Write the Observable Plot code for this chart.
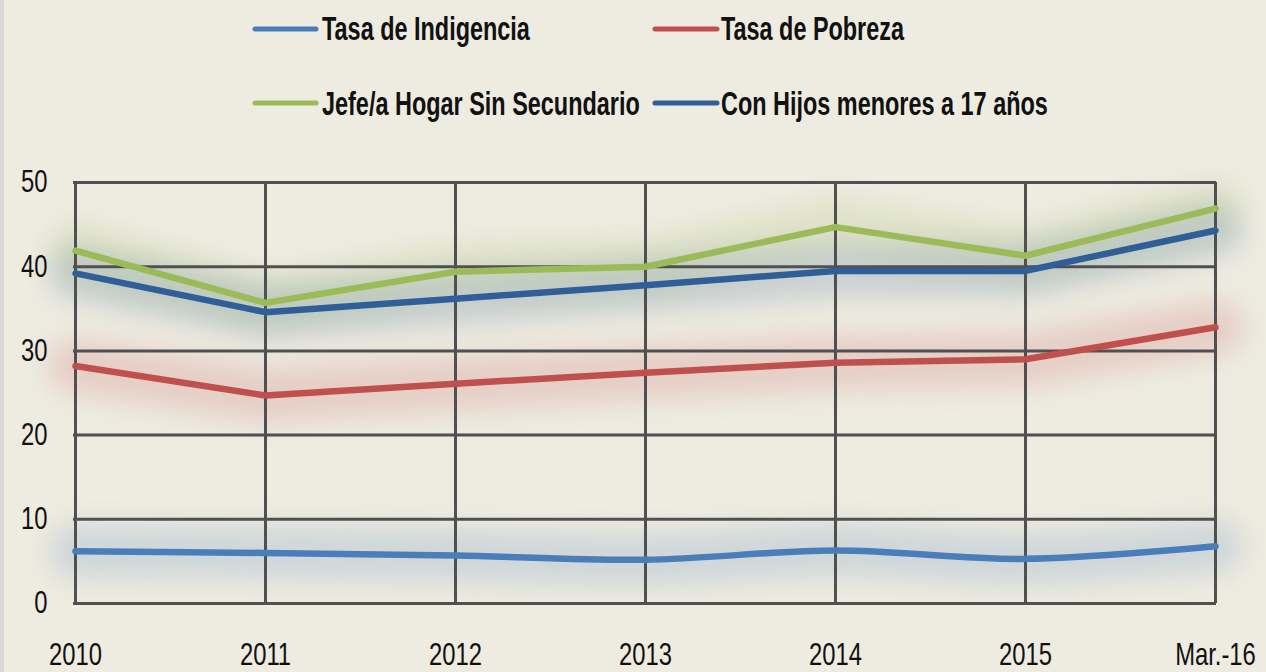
<!DOCTYPE html>
<html><head><meta charset="utf-8">
<script src="https://cdn.jsdelivr.net/npm/d3@7"></script>
<script src="https://cdn.jsdelivr.net/npm/@observablehq/plot@0.6"></script>
<style>
html,body{margin:0;padding:0;background:#eeebe0;}
body{width:1266px;height:672px;overflow:hidden;position:relative;font-family:"Liberation Sans Narrow","Liberation Sans",Arial,sans-serif;}
#edge{position:absolute;left:0;top:0;width:4px;height:672px;background:#d8d8d6;}
#legend svg,#chart svg{display:block;}
</style></head><body>
<div id="edge"></div>
<div id="legend"></div>
<div id="chart"></div>
<script>
// ---- data ----
const periods = ["2010","2011","2012","2013","2014","2015","Mar.-16"];
const seriesNames = ["Tasa de Indigencia","Tasa de Pobreza","Jefe/a Hogar Sin Secundario","Con Hijos menores a 17 años"];
const indigencia    = [6.2, 6.0, 5.7, 5.2, 6.3, 5.3, 6.8];
const pobreza       = [28.2, 24.7, 26.1, 27.4, 28.6, 29.0, 32.8];
const sinSecundario = [41.9, 35.7, 39.4, 40.0, 44.7, 41.3, 46.9];
const conHijos      = [39.2, 34.6, 36.2, 37.8, 39.5, 39.5, 44.3];
const yTicks = [0, 10, 20, 30, 40, 50];

// ---- styling ----
const FONT = '"Liberation Sans Narrow","Liberation Sans",Arial,sans-serif';
const colors = ["#4a7ebb", "#c0504d", "#9bbb59", "#2f5e98"];
const seriesValues = [indigencia, pobreza, sinSecundario, conHijos];
const rows = seriesNames.flatMap((s, j) => periods.map((p, i) => ({period: p, serie: s, value: seriesValues[j][i]})));

// ---- legend ----
const legendLayout = [
  {x0: 255, x1: 316, tx: 322, ly: 29, by: 40, w: 208},
  {x0: 655, x1: 717, tx: 721, ly: 29, by: 40, w: 183},
  {x0: 255, x1: 316, tx: 322, ly: 103, by: 115, w: 318},
  {x0: 655, x1: 717, tx: 721, ly: 103, by: 115, w: 327}
];
const lsvg = d3.select("#legend").append("svg").attr("width", 1266).attr("height", 160);
seriesNames.forEach((name, j) => {
  const L = legendLayout[j];
  lsvg.append("line").attr("x1", L.x0).attr("x2", L.x1).attr("y1", L.ly).attr("y2", L.ly)
    .attr("stroke", colors[j]).attr("stroke-width", 5).attr("stroke-linecap", "round");
  const t = lsvg.append("text").attr("x", 0).attr("y", 0).text(name)
    .attr("font-family", FONT)
    .attr("font-weight", "bold").attr("font-size", 33).attr("fill", "#111");
  const len = t.node().getComputedTextLength();
  t.attr("transform", `translate(${L.tx},${L.by}) scale(${L.w / len},1)`);
});

// ---- chart ----
const glowMarks = seriesNames.map((s, j) => Plot.line(rows.filter(d => d.serie === s), {
  x: "period", y: "value", stroke: colors[j], strokeWidth: 54, strokeOpacity: 0.18,
  curve: j === 0 ? "catmull-rom" : "linear"
}));
const lineMarks = seriesNames.map((s, j) => Plot.line(rows.filter(d => d.serie === s), {
  x: "period", y: "value", stroke: colors[j], strokeWidth: 6.5,
  strokeLinejoin: "round", curve: j === 0 ? "catmull-rom" : "linear"
}));

const chart = Plot.plot({
  width: 1266, height: 512,
  marginTop: 22, marginBottom: 69, marginLeft: 73, marginRight: 50,
  style: {background: "transparent", fontSize: "31px", color: "#111", fontFamily: FONT},
  x: {type: "point", domain: periods, padding: 0, label: null},
  y: {domain: [0, 50], label: null},
  marks: [
    ...glowMarks,
    Plot.gridY(yTicks, {stroke: "#505050", strokeOpacity: 1, strokeWidth: 3}),
    Plot.gridX(periods, {stroke: "#505050", strokeOpacity: 1, strokeWidth: 3}),
    ...lineMarks,
    Plot.axisX(periods, {tickSize: 0, tickPadding: 39, label: null}),
    Plot.axisY(yTicks, {tickSize: 0, tickPadding: 26, label: null})
  ]
});
document.getElementById("chart").appendChild(chart);

// blur the glow lines
d3.select(chart).selectAll('g[aria-label="line"]').filter(function () {
  return this.getAttribute("stroke-width") === "54";
}).style("filter", "blur(12px)");

// condense tick labels horizontally to match the narrow font of the original
const tickTexts = chart.querySelectorAll('g[aria-label="x-axis tick label"] text, g[aria-label="y-axis tick label"] text');
let ref = null;
tickTexts.forEach(t => { if (t.textContent === "2010") ref = t; });
const k = ref ? 53 / ref.getComputedTextLength() : 0.75;
tickTexts.forEach(t => {
  const tr = t.getAttribute("transform") || "";
  t.setAttribute("transform", `${tr} scale(${k},1)`);
});
</script>
</body></html>
